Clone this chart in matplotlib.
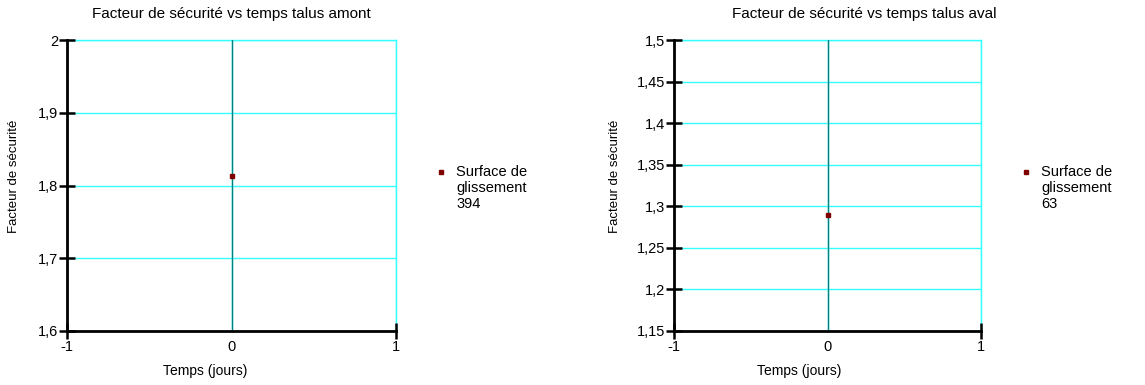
import matplotlib.pyplot as plt

# data
panels = ["amont", "aval"]
times = [[0.0], [0.0]]
fos = [[1.813], [1.290]]
surfaces = ["394", "63"]
y_limits = [(1.6, 2.0), (1.15, 1.5)]
y_ticks = [[1.6, 1.7, 1.8, 1.9, 2.0],
           [1.15, 1.2, 1.25, 1.3, 1.35, 1.4, 1.45, 1.5]]
x_ticks = [-1, 0, 1]

W, H = 1145, 385
fig = plt.figure(figsize=(W / 100, H / 100), dpi=100)
plt.rcParams["font.family"] = ["Liberation Sans", "DejaVu Sans"]

# pixel boxes (left, right, top, bottom)
boxes = [(67, 396, 40, 331), (674, 981, 40, 331)]
title_x = [231, 864]
xlabel_x = [205, 799]
ylabel_x = [14, 615]
legend_x = [441, 1026]

grid_c = "#33ffff"

for i, name in enumerate(panels):
    l, r, t, b = boxes[i]
    ax = fig.add_axes([l / W, 1 - b / H, (r - l) / W, (b - t) / H])
    ax.set_xlim(-1, 1)
    ax.set_ylim(*y_limits[i])
    ax.set_xticks(x_ticks)
    ax.set_yticks(y_ticks[i])
    ax.set_xticklabels([str(v) for v in x_ticks])
    ax.set_yticklabels([f"{v:g}".replace(".", ",") for v in y_ticks[i]])
    ax.grid(True, color=grid_c, lw=1.0)
    ax.set_axisbelow(True)
    for s in ["top", "right"]:
        ax.spines[s].set_color(grid_c)
        ax.spines[s].set_linewidth(1.0)
        ax.spines[s].set_zorder(0.5)
    for s in ["left", "bottom"]:
        ax.spines[s].set_color("black")
        ax.spines[s].set_linewidth(2.0)
    ax.tick_params(direction="inout", length=11, width=1.8, labelsize=10.5,
                   pad=1, color="black")
    # no tick mark at x = 0 in the original
    ax.xaxis.get_major_ticks()[1].tick1line.set_visible(False)
    ax.axvline(0, color="#008080", lw=1.0, zorder=2)
    ax.plot(times[i], fos[i], "s", color="#800000", ms=3, zorder=3)

    fig.text(title_x[i] / W, 1 - 14 / H,
             f"Facteur de sécurité vs temps talus {name}",
             ha="center", va="center", fontsize=11)
    fig.text(xlabel_x[i] / W, 1 - 371 / H, "Temps (jours)",
             ha="center", va="center", fontsize=10)
    fig.text(ylabel_x[i] / W, 1 - 176 / H, "Facteur de sécurité",
             ha="center", va="center", rotation=90, fontsize=9.5)

    # legend
    fig.lines.append(plt.Line2D([legend_x[i] / W], [1 - 172 / H], marker="s",
                                color="#800000", ms=3, ls="none",
                                transform=fig.transFigure, figure=fig))
    fig.text((legend_x[i] + 15) / W, 1 - 165 / H,
             f"Surface de\nglissement\n{surfaces[i]}",
             ha="left", va="top", fontsize=10.5, linespacing=1.2)

fig.savefig("out.png", dpi=100)
